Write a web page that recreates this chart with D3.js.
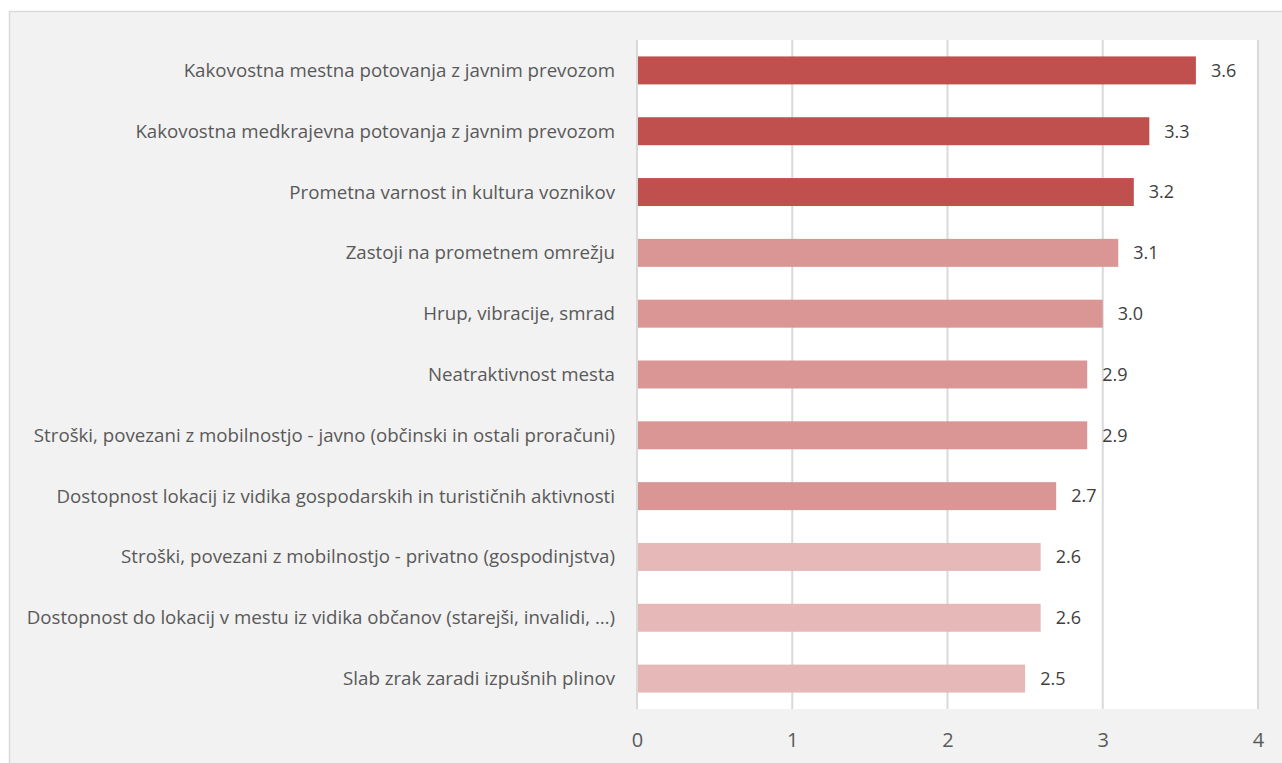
<!DOCTYPE html>
<html><head><meta charset="utf-8">
<script src="https://cdn.jsdelivr.net/npm/d3@7"></script>
<style>body{margin:0;background:#fff;}svg{display:block;}</style>
</head><body>
<svg id="c" width="1282" height="763"></svg>
<script>
const categories = [
  "Kakovostna mestna potovanja z javnim prevozom",
  "Kakovostna medkrajevna potovanja z javnim prevozom",
  "Prometna varnost in kultura voznikov",
  "Zastoji na prometnem omrežju",
  "Hrup, vibracije, smrad",
  "Neatraktivnost mesta",
  "Stroški, povezani z mobilnostjo - javno (občinski in ostali proračuni)",
  "Dostopnost lokacij iz vidika gospodarskih in turističnih aktivnosti",
  "Stroški, povezani z mobilnostjo - privatno (gospodinjstva)",
  "Dostopnost do lokacij v mestu iz vidika občanov (starejši, invalidi, …)",
  "Slab zrak zaradi izpušnih plinov"
];
const values = [3.6, 3.3, 3.2, 3.1, 3.0, 2.9, 2.9, 2.7, 2.6, 2.6, 2.5];
const groups = [0,0,0,1,1,1,1,1,2,2,2];
const groupColors = ["#c0504d", "#d99694", "#e6b9b8"];
const xTicks = [0, 1, 2, 3, 4];

const svg = d3.select("#c");
const font = "'Open Sans', sans-serif";
const textColor = "#595959";

// outer chart area
svg.append("rect").attr("x", 9.5).attr("y", 11.5).attr("width", 1290).attr("height", 770)
  .attr("fill", "#f2f2f2").attr("stroke", "#d9d9d9").attr("stroke-width", 1.5);

const plot = {left: 637, right: 1258, top: 40, bottom: 709};
svg.append("rect").attr("x", plot.left).attr("y", plot.top)
  .attr("width", plot.right - plot.left).attr("height", plot.bottom - plot.top).attr("fill", "#fff");

const x = d3.scaleLinear().domain([0, 4]).range([plot.left, plot.right]);
const y = d3.scaleBand().domain(categories).range([plot.top, plot.bottom]).paddingInner(0.54).paddingOuter(0.27);

// gridlines
svg.append("g").selectAll("line").data(xTicks).join("line")
  .attr("x1", d => x(d)).attr("x2", d => x(d))
  .attr("y1", plot.top).attr("y2", plot.bottom)
  .attr("stroke", "#d9d9d9").attr("stroke-width", 2);

// bars
svg.append("g").selectAll("rect").data(categories).join("rect")
  .attr("x", x(0) + 1).attr("y", d => y(d))
  .attr("width", (d, i) => x(values[i]) - x(0) - 1)
  .attr("height", y.bandwidth())
  .attr("fill", (d, i) => groupColors[groups[i]]);

// value labels
svg.append("g").selectAll("text").data(categories).join("text")
  .attr("x", (d, i) => x(values[i]) + 15)
  .attr("y", d => y(d) + y.bandwidth() / 2)
  .attr("dy", "0.35em")
  .attr("font-family", font).attr("font-size", 18).attr("fill", "#404040")
  .text((d, i) => values[i].toFixed(1));

// category axis labels
svg.append("g").selectAll("text").data(categories).join("text")
  .attr("x", 615)
  .attr("y", d => y(d) + y.bandwidth() / 2)
  .attr("dy", "0.35em")
  .attr("text-anchor", "end")
  .attr("font-family", font).attr("font-size", 18.7).attr("fill", textColor)
  .text(d => d);

// x axis
const xAxis = d3.axisBottom(x).tickValues(xTicks).tickFormat(d3.format("d")).tickSize(0).tickPadding(0);
const ax = svg.append("g").attr("transform", `translate(0,${plot.bottom})`).call(xAxis);
ax.select(".domain").remove();
ax.selectAll("text").attr("y", 24).attr("dy", "0.71em")
  .attr("font-family", font).attr("font-size", 20).attr("fill", textColor);
</script>
</body></html>
